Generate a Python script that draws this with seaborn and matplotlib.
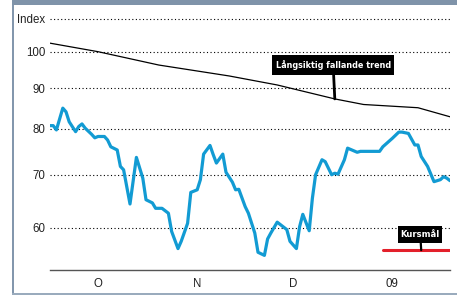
import pandas as pd
import numpy as np
import matplotlib
matplotlib.use("Agg")
import matplotlib.pyplot as plt
from matplotlib import font_manager
from matplotlib.font_manager import FontProperties
from matplotlib.patches import Rectangle
from matplotlib.path import Path
from matplotlib.ticker import FixedLocator, NullLocator
import seaborn as sns

# data (index, log scale)
index_dates = [
    "2008-09-16", "2008-09-17", "2008-09-18", "2008-09-20", "2008-09-21", "2008-09-22",
    "2008-09-24", "2008-09-25", "2008-09-26", "2008-09-27", "2008-09-29", "2008-09-30",
    "2008-10-01", "2008-10-03", "2008-10-04", "2008-10-05", "2008-10-07", "2008-10-08",
    "2008-10-09", "2008-10-11", "2008-10-13", "2008-10-15", "2008-10-16", "2008-10-18",
    "2008-10-19", "2008-10-21", "2008-10-23", "2008-10-24", "2008-10-26", "2008-10-27",
    "2008-10-29", "2008-10-30", "2008-11-01", "2008-11-02", "2008-11-03", "2008-11-05",
    "2008-11-06", "2008-11-07", "2008-11-09", "2008-11-10", "2008-11-12", "2008-11-13",
    "2008-11-14", "2008-11-16", "2008-11-17", "2008-11-19", "2008-11-20", "2008-11-22",
    "2008-11-23", "2008-11-24", "2008-11-26", "2008-11-29", "2008-11-30", "2008-12-02",
    "2008-12-03", "2008-12-04", "2008-12-06", "2008-12-07", "2008-12-08", "2008-12-10",
    "2008-12-11", "2008-12-13", "2008-12-14", "2008-12-15", "2008-12-17", "2008-12-18",
    "2008-12-21", "2008-12-22", "2008-12-28", "2008-12-29", "2009-01-01", "2009-01-03",
    "2009-01-04", "2009-01-06", "2009-01-08", "2009-01-09", "2009-01-10", "2009-01-12",
    "2009-01-14", "2009-01-16", "2009-01-17", "2009-01-18", "2009-01-19",
]
index_values = [
    80.7, 80.7, 79.7, 84.9, 84.0, 81.6,
    79.3, 80.5, 81.1, 80.1, 78.7, 77.9,
    78.2, 78.2, 77.4, 75.9, 75.2, 71.7,
    71.0, 64.3, 73.6, 69.3, 65.1, 64.5,
    63.5, 63.5, 62.6, 59.4, 56.5, 57.7,
    60.8, 66.5, 67.0, 69.0, 74.3, 76.2,
    74.2, 72.4, 74.3, 70.5, 68.5, 67.0,
    67.1, 63.8, 62.6, 59.1, 55.9, 55.4,
    58.1, 59.1, 61.0, 59.7, 57.7, 56.5,
    60.2, 62.4, 59.5, 65.4, 70.0, 73.1,
    72.7, 70.0, 70.3, 70.1, 73.1, 75.6,
    74.7, 74.9, 74.9, 75.9, 77.8, 79.2,
    79.2, 78.9, 76.3, 76.3, 73.8, 71.7,
    68.6, 69.0, 69.6, 69.3, 68.8,
]

trend_dates = ["2008-09-16", "2008-10-01", "2008-10-20", "2008-11-11", "2008-11-26",
               "2008-12-14", "2008-12-23", "2009-01-09", "2009-01-19"]
trend_values = [102.5, 100.0, 96.2, 93.2, 90.8, 87.2, 85.8, 85.0, 82.8]

target_dates = ["2008-12-29", "2009-01-19"]
target_values = [56.25, 56.25]

ytick_values = [60, 70, 80, 90, 100, 110]
ytick_labels = ["60", "70", "80", "90", "100", "Index"]
month_ticks = ["2008-10-01", "2008-11-01", "2008-12-01", "2009-01-01"]
month_labels = ["O", "N", "D", "09"]

trend_label = "Långsiktig fallande trend"
trend_point = ("2008-12-14", 87.2)
target_label = "Kursmål"
target_point = ("2009-01-10", 56.25)

index_df = pd.DataFrame({"date": pd.to_datetime(index_dates), "value": index_values})
trend_df = pd.DataFrame({"date": pd.to_datetime(trend_dates), "value": trend_values})
target_df = pd.DataFrame({"date": pd.to_datetime(target_dates), "value": target_values})

sns.set_theme(style="white")
names = {f.name for f in font_manager.fontManager.ttflist}
plain = "Liberation Sans" if "Liberation Sans" in names else "DejaVu Sans"
plt.rcParams["font.family"] = [plain, "DejaVu Sans"]

# look for a narrow / condensed bold face for the label boxes
label_font = FontProperties(family=[plain, "DejaVu Sans"], weight="bold")
for f in font_manager.fontManager.ttflist:
    nm = f.name + " " + f.fname
    if ("Narrow" in nm or "Condensed" in nm) and "bold" in f.fname.lower() \
            and "italic" not in f.fname.lower() and "oblique" not in f.fname.lower():
        label_font = FontProperties(fname=f.fname)
        break

W, H = 457, 295
fig = plt.figure(figsize=(W / 100, H / 100), dpi=100)
fig.patch.set_facecolor("white")

# frame around the graphic
fig.add_artist(Rectangle((11.7 / W, 0), 2.5 / W, 1, transform=fig.transFigure,
                         color="#8397ad", lw=0, zorder=0))
fig.add_artist(Rectangle((11.7 / W, 1 - 5.3 / H), 1, 5.3 / H, transform=fig.transFigure,
                         color="#7f93a9", lw=0, zorder=0))
fig.add_artist(Rectangle((11.7 / W, 0), 1, 2.5 / H, transform=fig.transFigure,
                         color="#9aabbd", lw=0, zorder=0))

ax = fig.add_axes([50 / W, 25 / H, 400 / W, 262 / H])
ax.set_facecolor("none")

sns.lineplot(data=trend_df, x="date", y="value", ax=ax, color="black", lw=0.9, zorder=3)
sns.lineplot(data=index_df, x="date", y="value", ax=ax, color="#129bd3", lw=2.3, zorder=4)
sns.lineplot(data=target_df, x="date", y="value", ax=ax, color="#e3202b", lw=2.2, zorder=4)

ax.set_yscale("log")
ax.set_ylim(53.1, 113.5)
ax.set_xlim(pd.Timestamp(index_dates[0]), pd.Timestamp(index_dates[-1]))
ax.yaxis.set_major_locator(FixedLocator(ytick_values))
ax.yaxis.set_minor_locator(NullLocator())
ax.set_yticklabels(ytick_labels)
ax.set_xticks(pd.to_datetime(month_ticks))
ax.set_xticklabels(month_labels)
ax.set_xlabel("")
ax.set_ylabel("")

for side in ["top", "right", "left"]:
    ax.spines[side].set_visible(False)
ax.spines["bottom"].set_color("#555555")
ax.spines["bottom"].set_linewidth(1.0)

ax.tick_params(axis="y", length=0, pad=3.5, labelsize=8.3, labelcolor="#222222")
ax.tick_params(axis="x", length=3.5, width=0.9, color="#555555", pad=2,
               labelsize=8.3, labelcolor="#222222")
ax.grid(axis="y", color="black", lw=0.8, linestyle=(0, (1, 2.2)))
ax.grid(axis="x", visible=False)


def fixed_box(box_w, box_h):
    # black label box of a fixed pixel size, centred on the text
    def style(x0, y0, width, height, mutation_size):
        cx, cy = x0 + width / 2, y0 + height / 2
        return Path([(cx - box_w / 2, cy - box_h / 2), (cx + box_w / 2, cy - box_h / 2),
                     (cx + box_w / 2, cy + box_h / 2), (cx - box_w / 2, cy + box_h / 2),
                     (cx - box_w / 2, cy - box_h / 2)], closed=True)
    return style


def label_box(text, point, offset, width_px, box_w, box_h, lw):
    t = ax.annotate(text, xy=(pd.Timestamp(point[0]), point[1]),
                    xytext=offset, textcoords="offset points", ha="center", va="center",
                    fontproperties=label_font, fontsize=9, color="white", zorder=6,
                    bbox=dict(boxstyle=fixed_box(box_w, box_h), fc="black", ec="none"),
                    arrowprops=dict(arrowstyle="-", lw=lw, color="black",
                                    shrinkA=0, shrinkB=0))
    fig.canvas.draw()
    w = t.get_window_extent().width
    t.set_fontsize(min(9.5, 9 * width_px / w))
    return t


label_box(trend_label, trend_point, (-1.2, 24.5), 116, 122, 20, 2.0)
label_box(target_label, target_point, (-0.7, 11.5), 39, 44, 17, 1.6)

fig.savefig("out.png", dpi=100)
